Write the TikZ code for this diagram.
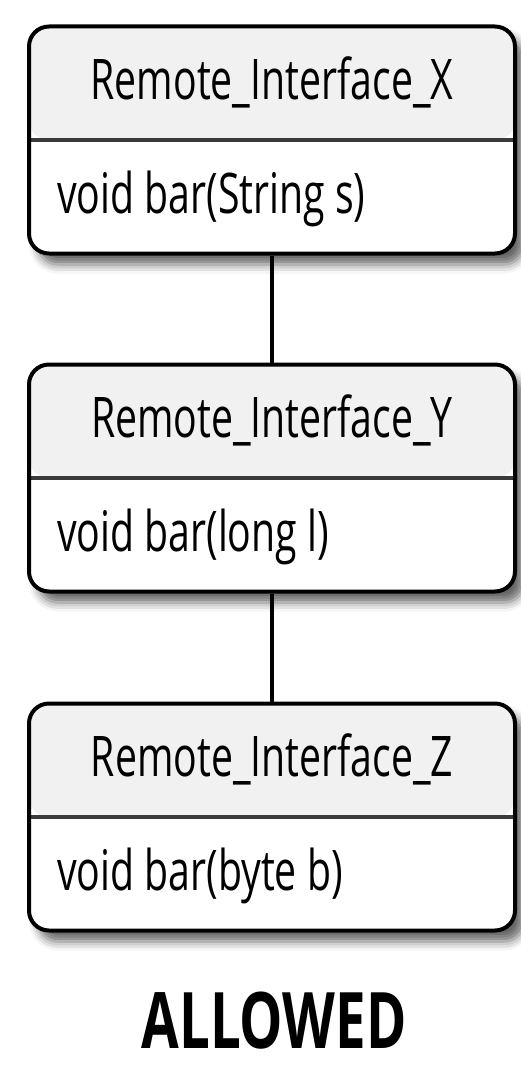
\documentclass[tikz,border=0pt]{standalone}
\usepackage{fontspec}
\setmainfont{Open Sans}[FakeStretch=0.7]
\usetikzlibrary{shadows.blur}
\definecolor{headGray}{HTML}{F1F1F1}
\definecolor{lineGray}{HTML}{3A3A3A}
\begin{document}
\begin{tikzpicture}
[x=1pt,y=-1pt,%
  classDecorate/.style={shape=rectangle,draw,line width=4pt,rounded corners=20pt,
    fill=white,minimum width=486pt,minimum height=227pt,inner sep=0pt,
    blur shadow={shadow xshift=9pt,shadow yshift=-11pt,shadow blur radius=9pt,shadow opacity=60},
    path picture={
      \fill[headGray] (path picture bounding box.north west)
        rectangle (path picture bounding box.east);
      \draw[lineGray,line width=3.5pt] (path picture bounding box.west)
        -- (path picture bounding box.east);}},%
  textDecorate/.style={inner sep=0pt,font=\fontsize{56}{60}\selectfont},%
  lineDecorate/.style={-,line width=4pt}]
\useasboundingbox (0,0) rectangle (520,1065);
%% classes
\foreach \nodename/\y/\method in {
  X/140/String s, Y/478/long l, Z/817/byte b}
{
  \node (\nodename) at (272,\y) [classDecorate] {};
  \node (\nodename name) [textDecorate] at ([yshift=58pt]\nodename.center) {Remote\_Interface\_\nodename};
  \node (\nodename op) [textDecorate,anchor=west] at ([xshift=30pt,yshift=-59pt]\nodename.west) {void bar(\method)};
}
%% links
\path
\foreach \startnode/\endnode in {X/Y, Y/Z}
{
  (\startnode) edge[lineDecorate] (\endnode)
};
\node (verdict) at (274,1021) [inner sep=0pt,font=\bfseries\fontsize{78}{82}\selectfont] {ALLOWED};
\end{tikzpicture}
\end{document}
